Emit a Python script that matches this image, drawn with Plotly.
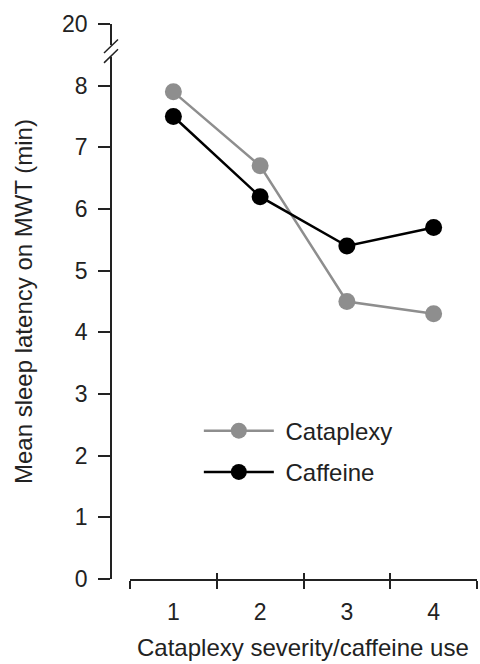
import plotly.graph_objects as go

categories = ["1", "2", "3", "4"]
cataplexy = [7.9, 6.7, 4.5, 4.3]
caffeine = [7.5, 6.2, 5.4, 5.7]
y_tickvals = [0, 1, 2, 3, 4, 5, 6, 7, 8, 9]
y_ticktext = ["0", "1", "2", "3", "4", "5", "6", "7", "8", "20"]

FONT = "Liberation Sans"
AX = "#222222"
GRAY = "#8e8e8e"
NB = "\u00a0"

fig = go.Figure()
fig.add_trace(go.Scatter(
    x=categories, y=cataplexy, name=NB + "Cataplexy", mode="lines+markers",
    line=dict(color=GRAY, width=2.5), marker=dict(size=17, color=GRAY),
    legendgroup="a"))
fig.add_trace(go.Scatter(
    x=categories, y=caffeine, name=NB + "Caffeine", mode="lines+markers",
    line=dict(color="#000000", width=2.5), marker=dict(size=17, color="#000000"),
    legendgroup="b"))
# invisible helper trace for the inner half of the x ticks
fig.add_trace(go.Scatter(
    x=categories, y=caffeine, xaxis="x2", mode="markers",
    marker=dict(opacity=0), showlegend=False, hoverinfo="skip"))

fig.update_layout(
    width=480, height=664,
    margin=dict(l=111, r=3, t=24, b=85),
    paper_bgcolor="white", plot_bgcolor="white",
    font=dict(family=FONT, size=24, color=AX),
    showlegend=True,
    legend=dict(x=0.24, y=0.307, xanchor="left", yanchor="top",
                font=dict(family=FONT, size=24, color=AX),
                tracegroupgap=7, itemwidth=70, bgcolor="rgba(0,0,0,0)"),
    xaxis=dict(domain=[19/366, 1], type="category", categoryarray=categories,
               range=[-0.5, 3.5], tickson="boundaries", ticks="outside",
               ticklen=8, tickwidth=1.5, tickcolor=AX,
               showline=True, linecolor=AX, linewidth=1.8,
               showgrid=False, zeroline=False, ticklabelstandoff=11,
               tickfont=dict(family=FONT, size=23, color=AX)),
    xaxis2=dict(domain=[19/366, 1], type="category", categoryarray=categories,
                range=[-0.5, 3.5], overlaying="x", anchor="y",
                tickson="boundaries", ticks="inside", ticklen=6,
                tickwidth=1.5, tickcolor=AX, showticklabels=False,
                showline=False, showgrid=False, zeroline=False),
    yaxis=dict(anchor="free", position=0, range=[0, 9],
               tickvals=y_tickvals, ticktext=y_ticktext,
               ticks="outside", ticklen=12, tickwidth=1.5, tickcolor=AX,
               showline=True, linecolor=AX, linewidth=1.8,
               showgrid=False, zeroline=False, ticklabelstandoff=6,
               tickfont=dict(family=FONT, size=23, color=AX)),
)

# axis break
fig.add_shape(type="rect", xref="paper", yref="y", x0=-0.02, x1=0.02,
              y0=8.47, y1=8.66, fillcolor="white", line=dict(width=0),
              layer="above")
for yc in (8.64, 8.48):
    fig.add_shape(type="line", xref="paper", yref="y",
                  x0=-7/366, x1=7/366, y0=yc - 0.11, y1=yc + 0.11,
                  line=dict(color=AX, width=1.5), layer="above")

fig.add_annotation(text="Mean sleep latency on MWT (min)", xref="paper",
                   yref="paper", x=-88/366, y=0.499, textangle=-90,
                   showarrow=False, xanchor="center", yanchor="middle",
                   font=dict(family=FONT, size=24, color=AX))
fig.add_annotation(text="Cataplexy severity/caffeine use", xref="paper",
                   yref="paper", x=192/366, y=-68/555, showarrow=False,
                   xanchor="center", yanchor="middle",
                   font=dict(family=FONT, size=24, color=AX))

fig.write_html("out.html")
